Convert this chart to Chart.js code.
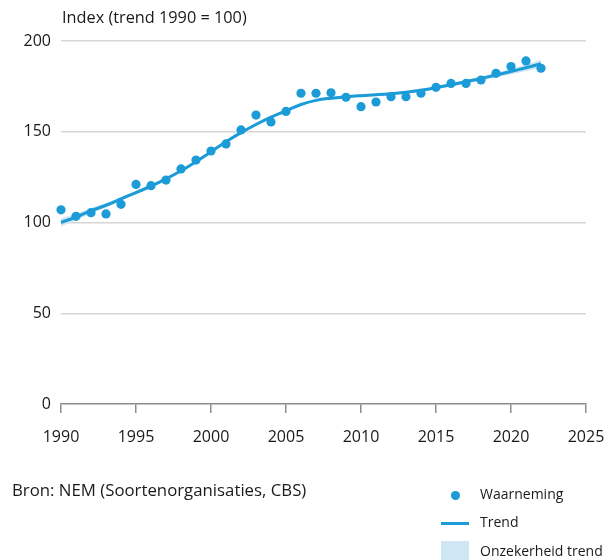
<!DOCTYPE html>
<html>
<head>
<meta charset="utf-8">
<script src="https://cdn.jsdelivr.net/npm/chart.js@4/dist/chart.umd.min.js"></script>
<style>
  html, body { margin: 0; padding: 0; background: #fff; }
  body { width: 614px; height: 560px; position: relative; overflow: hidden;
         font-family: "Open Sans", sans-serif; color: #1a1a1a; }
  #wrap { position: absolute; left: 0; top: 0; width: 614px; height: 560px; }
  .txt { position: absolute; font-size: 16.3px; white-space: nowrap; line-height: 1; }
  .leg { font-size: 14px; }
  .dot { position: absolute; width: 9px; height: 9px; border-radius: 50%; background: #1b9bd7; }
  .line { position: absolute; height: 3px; background: #1b9bd7; }
  .box { position: absolute; background: #cfe6f5; }
</style>
</head>
<body>
<div id="wrap"><canvas id="chart" width="614" height="560"></canvas></div>
<div class="txt" style="left:62px; top:9px;">Index (trend 1990 = 100)</div>
<div class="txt" style="left:12px; top:482px; font-size:16.8px;">Bron: NEM (Soortenorganisaties, CBS)</div>
<div class="dot" style="left:451px; top:491px;"></div>
<div class="txt leg" style="left:480px; top:487px;">Waarneming</div>
<div class="line" style="left:441px; top:522px; width:28px;"></div>
<div class="txt leg" style="left:480px; top:515px;">Trend</div>
<div class="box" style="left:441px; top:541px; width:28px; height:19px;"></div>
<div class="txt leg" style="left:480px; top:544px;">Onzekerheid trend</div>
<script>
const years = [1990, 1991, 1992, 1993, 1994, 1995, 1996, 1997, 1998, 1999,
  2000, 2001, 2002, 2003, 2004, 2005, 2006, 2007, 2008, 2009,
  2010, 2011, 2012, 2013, 2014, 2015, 2016, 2017, 2018, 2019,
  2020, 2021, 2022];

const observed = [107, 103.4, 105.4, 104.7, 110, 121, 120.3, 123.4, 129.5, 134.4,
  139.4, 143.3, 151, 159.2, 155.4, 161.2, 171.2, 171.2, 171.5, 169,
  163.8, 166.4, 169.3, 169.3, 171.2, 174.5, 176.6, 176.6, 178.5, 182.2,
  185.9, 189, 185];

const trend = [100, 103, 106.5, 109.5, 113, 116.5, 120, 124, 128.5, 133.5,
  139, 144.5, 149.5, 154, 158, 161.5, 165, 167.3, 168.5, 169.3,
  169.9, 170.4, 171, 171.8, 172.9, 174.3, 175.9, 177.6, 179.3, 181.2,
  183.2, 185.3, 187.5];

const trendLow = [97.8, 101.2, 105, 108.3, 112, 115.6, 119.2, 123.3, 127.8, 132.8,
  138.3, 143.8, 148.8, 153.3, 157.3, 160.8, 164.3, 166.6, 167.8, 168.6,
  169.2, 169.7, 170.3, 171.1, 172.1, 173.4, 174.9, 176.5, 178.1, 179.9,
  181.7, 183.5, 185.3];

const trendHigh = [102.2, 104.8, 108, 110.7, 114, 117.4, 120.8, 124.7, 129.2, 134.2,
  139.7, 145.2, 150.2, 154.7, 158.7, 162.2, 165.7, 168, 169.2, 170,
  170.6, 171.1, 171.7, 172.5, 173.7, 175.2, 176.9, 178.7, 180.5, 182.5,
  184.7, 187.1, 189.7];

const xTicks = [1990, 1995, 2000, 2005, 2010, 2015, 2020, 2025];
const yTicks = [0, 50, 100, 150, 200];

const blue = '#1b9bd7';
const band = '#cfe6f5';
const pts = (arr) => years.map((y, i) => ({ x: y, y: arr[i] }));

new Chart(document.getElementById('chart'), {
  type: 'scatter',
  data: {
    datasets: [
      {
        label: 'upper',
        type: 'line',
        data: pts(trendHigh),
        borderWidth: 0,
        pointRadius: 0,
        backgroundColor: band,
        fill: '+1',
        tension: 0.4,
        clip: false,
        order: 3
      },
      {
        label: 'lower',
        type: 'line',
        data: pts(trendLow),
        borderWidth: 0,
        pointRadius: 0,
        fill: false,
        tension: 0.4,
        clip: false,
        order: 3
      },
      {
        label: 'Trend',
        type: 'line',
        data: pts(trend),
        borderColor: blue,
        borderWidth: 3,
        pointRadius: 0,
        fill: false,
        tension: 0.4,
        clip: false,
        order: 2
      },
      {
        label: 'Waarneming',
        data: pts(observed),
        backgroundColor: blue,
        borderWidth: 0,
        pointRadius: 4.6,
        clip: false,
        order: 1
      }
    ]
  },
  options: {
    responsive: false,
    animation: false,
    events: [],
    layout: { padding: { left: 0, top: 41, right: 28, bottom: 0 } },
    plugins: { legend: { display: false }, tooltip: { enabled: false } },
    scales: {
      x: {
        type: 'linear',
        min: 1990,
        max: 2025,
        afterBuildTicks: (axis) => { axis.ticks = xTicks.map((v) => ({ value: v })); },
        afterFit: (axis) => { axis.height = 156; axis.paddingLeft = 0; axis.paddingRight = 0; },
        border: { display: true, color: '#8c8c8c', width: 1.5 },
        grid: { drawOnChartArea: false, drawTicks: true, tickLength: 9, color: '#8c8c8c', lineWidth: 1.5 },
        ticks: {
          padding: 15,
          color: '#1a1a1a',
          font: { family: 'Open Sans', size: 16 },
          maxRotation: 0,
          callback: (v) => String(v)
        }
      },
      y: {
        min: 0,
        max: 200,
        afterBuildTicks: (axis) => { axis.ticks = yTicks.map((v) => ({ value: v })); },
        afterFit: (axis) => { axis.width = 61; axis.paddingTop = 0; axis.paddingBottom = 0; },
        border: { display: false },
        grid: {
          drawTicks: false,
          color: (ctx) => ctx.tick && ctx.tick.value === 0 ? 'rgba(0,0,0,0)' : '#d6d6d6',
          lineWidth: 1.5
        },
        ticks: {
          padding: 10,
          color: '#1a1a1a',
          font: { family: 'Open Sans', size: 16 }
        }
      }
    }
  }
});
</script>
</body>
</html>
